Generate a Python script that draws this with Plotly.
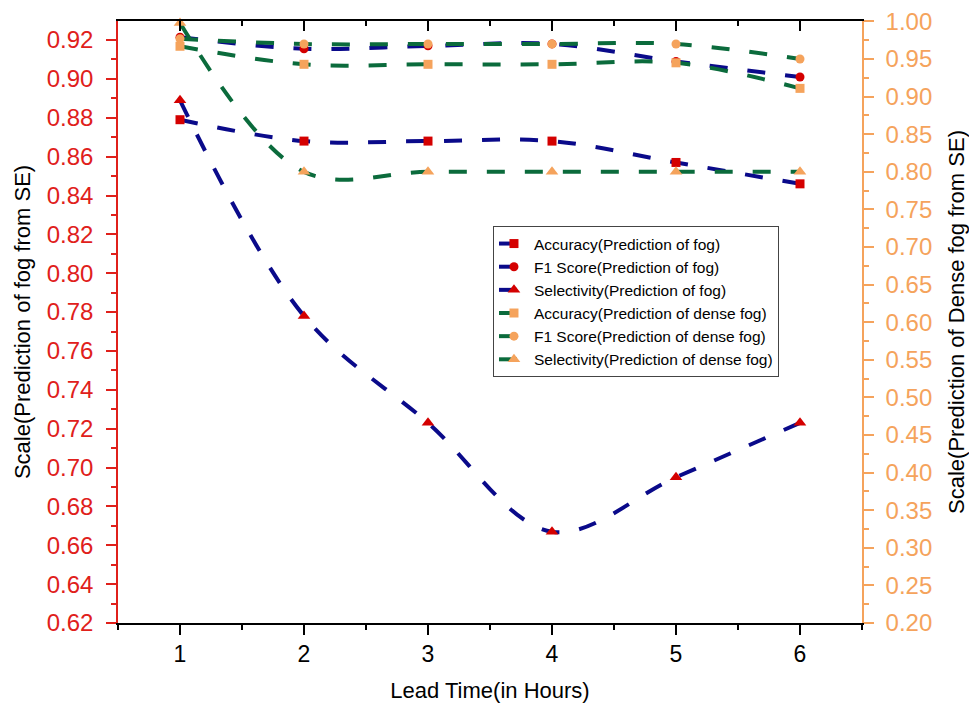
import plotly.graph_objects as go

lead_time = [1, 2, 3, 4, 5, 6]

# Prediction of fog (left axis)
acc_fog = [0.879, 0.868, 0.868, 0.868, 0.857, 0.846]
f1_fog = [0.9215, 0.9155, 0.917, 0.918, 0.909, 0.901]
sel_fog = [0.889, 0.778, 0.723, 0.667, 0.695, 0.723]

# Prediction of dense fog (right axis)
acc_dense = [0.967, 0.943, 0.943, 0.943, 0.945, 0.911]
f1_dense = [0.977, 0.970, 0.970, 0.970, 0.970, 0.950]
sel_dense = [0.998, 0.800, 0.800, 0.800, 0.800, 0.800]

series_names = [
    "Accuracy(Prediction of fog)",
    "F1 Score(Prediction of fog)",
    "Selectivity(Prediction of fog)",
    "Accuracy(Prediction of dense fog)",
    "F1 Score(Prediction of dense fog)",
    "Selectivity(Prediction of dense fog)",
]

NAVY = "#0a0a8a"
GREEN = "#0b6b3c"
RED = "#d40000"
ORANGE = "#f5a35c"
LRED = "#e0201b"
FONT = "Liberation Sans, Arial, sans-serif"

fig = go.Figure()

def add(y, name, line_color, marker_color, symbol, size, axis):
    fig.add_trace(go.Scatter(
        x=lead_time, y=y, name=name, mode="lines+markers",
        line=dict(color=line_color, width=4, dash="18px,20px", shape="spline", smoothing=1.0),
        marker=dict(color=marker_color, size=size, symbol=symbol),
        yaxis=axis, cliponaxis=False,
    ))

add(acc_fog, series_names[0], NAVY, RED, "square", 9, "y")
add(f1_fog, series_names[1], NAVY, RED, "circle", 9, "y")
add(sel_fog, series_names[2], NAVY, RED, "triangle-up", 11, "y")
add(acc_dense, series_names[3], GREEN, ORANGE, "square", 9, "y2")
add(f1_dense, series_names[4], GREEN, ORANGE, "circle", 9, "y2")
add(sel_dense, series_names[5], GREEN, ORANGE, "triangle-up", 11, "y2")

# invisible trace to draw top mirrored axis
fig.add_trace(go.Scatter(x=[lead_time[0]], y=[acc_fog[0]], xaxis="x2", yaxis="y",
                         mode="markers", marker=dict(opacity=0), showlegend=False,
                         hoverinfo="skip"))

fig.update_layout(
    template="none",
    width=969, height=700,
    margin=dict(l=110, r=115, t=13, b=85, pad=0),
    paper_bgcolor="white", plot_bgcolor="white",
    font=dict(family=FONT, color="black"),
    showlegend=True,
    legend=dict(x=0.504, y=0.6595, xanchor="left", yanchor="top",
                bgcolor="white", bordercolor="#444444", borderwidth=1,
                font=dict(size=15.5, family=FONT, color="black"),
                tracegroupgap=0, itemwidth=30),
    xaxis=dict(
        automargin=False,
        range=[0.5, 6.5], dtick=1, tick0=0, showgrid=False, zeroline=False,
        showline=True, linecolor="black", linewidth=1.5,
        ticks="outside", ticklen=10, tickwidth=1.5, tickcolor="black",
        minor=dict(dtick=0.5, tick0=0.5, ticks="outside", ticklen=5, tickcolor="black", tickwidth=1.5),
        tickfont=dict(size=23, color="black"),
        title=dict(text="Lead Time(in Hours)", font=dict(size=22, color="black"), standoff=16),
    ),
    xaxis2=dict(
        automargin=False,
        range=[0.5, 6.5], dtick=1, tick0=0, overlaying="x", side="top",
        showgrid=False, zeroline=False, showticklabels=False,
        showline=True, linecolor="black", linewidth=1.5,
        ticks="inside", ticklen=10, tickwidth=1.5, tickcolor="black",
        minor=dict(dtick=0.5, tick0=0.5, ticks="inside", ticklen=5, tickcolor="black", tickwidth=1.5),
    ),
    yaxis=dict(
        automargin=False, ticklabeloverflow="allow",
        range=[0.62, 0.9298], dtick=0.02, tick0=0.62, tickformat=".2f",
        showgrid=False, zeroline=False,
        showline=True, linecolor=LRED, linewidth=1.5,
        ticks="outside", ticklen=10, tickwidth=1.5, tickcolor=LRED,
        ticklabelstandoff=8,
        minor=dict(dtick=0.01, tick0=0.62, ticks="outside", ticklen=5, tickcolor=LRED, tickwidth=1.5),
        tickfont=dict(size=24, color=LRED),
        title=dict(text="Scale(Prediction of fog from SE)", font=dict(size=22, color="black"), standoff=10),
    ),
    yaxis2=dict(
        automargin=False, ticklabeloverflow="allow",
        range=[0.2, 1.0006], dtick=0.05, tick0=0.2, tickformat=".2f",
        overlaying="y", side="right",
        showgrid=False, zeroline=False,
        showline=True, linecolor=ORANGE, linewidth=1.5,
        ticks="outside", ticklen=10, tickwidth=1.5, tickcolor=ORANGE,
        ticklabelstandoff=7,
        minor=dict(dtick=0.025, tick0=0.2, ticks="outside", ticklen=5, tickcolor=ORANGE, tickwidth=1.5),
        tickfont=dict(size=24, color=ORANGE),
        title=dict(text="Scale(Prediction of Dense fog from SE)", font=dict(size=22, color="black"), standoff=17),
    ),
)

fig.write_html("out.html")
